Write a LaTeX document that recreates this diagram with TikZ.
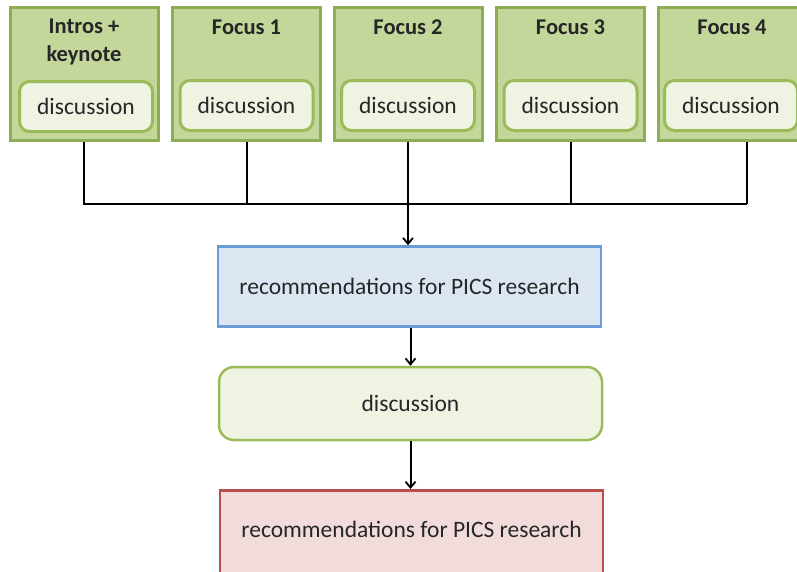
\documentclass[tikz,border=0pt]{standalone}
\usepackage{fontspec}
\setmainfont{Carlito}
\usetikzlibrary{arrows.meta}
\definecolor{outerfill}{HTML}{C4D79B}
\definecolor{outerdraw}{HTML}{8EAB55}
\definecolor{innerfill}{HTML}{EEF3E2}
\definecolor{innerdraw}{HTML}{9BBB59}
\definecolor{bluefill}{HTML}{DCE6F2}
\definecolor{bluedraw}{HTML}{6A9BD6}
\definecolor{redfill}{HTML}{F2DCDB}
\definecolor{reddraw}{HTML}{B9504D}
\definecolor{txt}{HTML}{262626}
\tikzset{
  outerbox/.style={draw=outerdraw, fill=outerfill, line width=3pt, minimum width=148pt, minimum height=133pt, inner sep=0pt},
  innerbox/.style={draw=innerdraw, fill=innerfill, line width=3pt, rounded corners=10pt, minimum width=133pt, minimum height=50pt, inner sep=0pt, text=txt, font=\fontsize{23.5}{26}\selectfont},
  titletext/.style={font=\bfseries\fontsize{22.5}{28}\selectfont, align=center, inner sep=0pt, text=txt},
  wide/.style={line width=2.5pt, minimum width=383pt, inner sep=0pt, text=txt, font=\fontsize{23.5}{27}\selectfont},
  conn/.style={line width=2pt, black},
  arr/.style={conn, -{Straight Barb[length=6pt,width=10pt,line width=1.8pt]}}
}
\begin{document}
\begin{tikzpicture}[x=1pt,y=-1pt]
\useasboundingbox (0,0) rectangle (797,571);
\clip (0,0) rectangle (797,571);
% top boxes
\node[outerbox] (b1) at (84,73.5) {};
\node[outerbox] (b2) at (246.5,73.5) {};
\node[outerbox] (b3) at (408,73.5) {};
\node[outerbox] (b4) at (570.5,73.5) {};
\node[outerbox] (b5) at (732,73.5) {};
\node[titletext] (t1) at (84,42) {Intros +\\keynote};
\node[titletext] (t2) at (246.5,27) {Focus 1};
\node[titletext] (t3) at (408,27) {Focus 2};
\node[titletext] (t4) at (570.5,27) {Focus 3};
\node[titletext] (t5) at (732,27) {Focus 4};
\node[innerbox] (d1) at (86,106.5) {discussion};
\node[innerbox] (d2) at (246.5,105.5) {discussion};
\node[innerbox] (d3) at (408,105.5) {discussion};
\node[innerbox] (d4) at (570.5,105.5) {discussion};
\node[innerbox] (d5) at (731,105.5) {discussion};
% lower boxes
\node[wide, draw=bluedraw, fill=bluefill, minimum height=80pt] (r1) at (409.5,286.5) {recommendations for PICS research};
\node[wide, draw=innerdraw, fill=innerfill, rounded corners=15pt, minimum height=73pt] (dm) at (410.5,403.5) {discussion};
\node[wide, draw=reddraw, fill=redfill, minimum height=88pt, anchor=north] (r2) at (411.5,489) {};
\node[font=\fontsize{23.5}{27}\selectfont, inner sep=0pt, text=txt] (r2t) at (411.5,529) {recommendations for PICS research};
% connectors
\coordinate (s5) at (747,141.5);
\coordinate (e5) at (747,204);
\draw[conn] (b1.south) |- (e5);
\draw[conn] (s5) -- (e5);
\draw[conn] (b2.south) -- (b2.south |- e5);
\draw[conn] (b4.south) -- (b4.south |- e5);
\draw[arr] (b3.south) -- (r1.north -| b3.south);
\draw[arr] (r1.south -| dm.north) -- (dm.north);
\draw[arr] (dm.south) -- (dm.south |- r2.north);
\end{tikzpicture}
\end{document}
